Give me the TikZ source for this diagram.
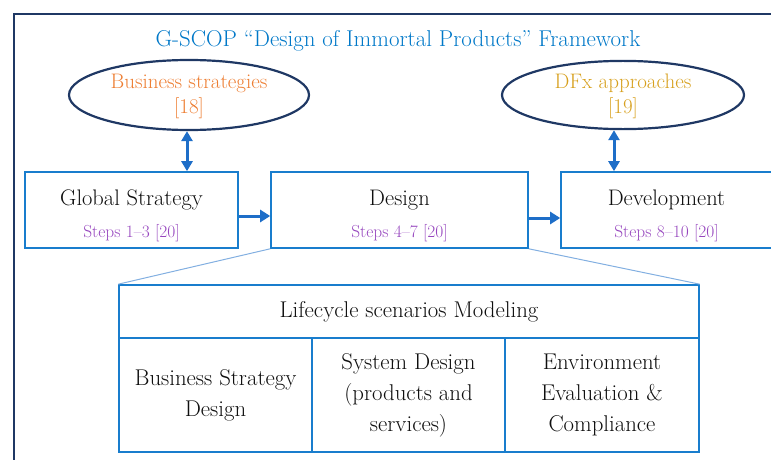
\documentclass[tikz,border=0pt]{standalone}
\usetikzlibrary{arrows.meta,shapes.geometric}
\definecolor{navy}{RGB}{31,56,100}
\definecolor{boxblue}{RGB}{25,125,205}
\definecolor{titleblue}{RGB}{0,120,200}
\definecolor{arrowblue}{RGB}{30,110,200}
\definecolor{zoomblue}{RGB}{130,175,225}
\definecolor{orangec}{RGB}{237,125,49}
\definecolor{goldc}{RGB}{215,160,30}
\definecolor{purplec}{RGB}{150,70,190}
\definecolor{textc}{RGB}{15,15,15}
\begin{document}
\begin{tikzpicture}[x=1pt,y=-1pt,
  stagebox/.style={draw=boxblue,line width=1.6pt,inner sep=0pt,minimum height=76pt},
  cell/.style={draw=boxblue,line width=1.6pt,inner sep=0pt,align=center,text=textc,
    font=\fontsize{22.8}{31}\selectfont},
  oval/.style={ellipse,draw=navy,line width=2.2pt,inner sep=0pt,align=center,
    font=\fontsize{21}{25}\selectfont},
  maintext/.style={anchor=base,text=textc,inner sep=0pt,font=\fontsize{22.5}{24}\selectfont},
  steptext/.style={anchor=base,text=purplec,inner sep=0pt,font=\fontsize{17.4}{18}\selectfont},
  arr/.style={draw=arrowblue,line width=3pt,-{Triangle[length=10pt,width=12pt]}},
  darr/.style={draw=arrowblue,line width=3pt,{Triangle[length=10pt,width=11pt]}-{Triangle[length=10pt,width=11pt]}},
  zoomline/.style={draw=zoomblue,line width=1pt}]
\useasboundingbox (0,0) rectangle (771,460);
% outer frame
\draw[navy,line width=2pt] (14,480) -- (14,14) -- (800,14);
% title
\node[anchor=base,text=titleblue,inner sep=0pt,font=\fontsize{22.9}{24}\selectfont] (title) at (398,47)
  {G-SCOP “Design of Immortal Products” Framework};
% ellipses
\node[oval,minimum width=240pt,minimum height=70pt,text=orangec] (bs) at (189,95)
  {\rule{0pt}{18pt}Business strategies\\{[18]}};
\node[oval,minimum width=242pt,minimum height=68pt,text=goldc] (dfx) at (623,95)
  {\rule{0pt}{18pt}DFx approaches\\{[19]}};
% stage boxes
\node[stagebox,minimum width=213pt] (gs) at (131.5,210) {};
\node[stagebox,minimum width=257pt] (des) at (399.5,210) {};
\node[stagebox,minimum width=211pt] (dev) at (666.5,210) {};
\node[maintext] (gst) at (131.5,205) {Global Strategy};
\node[steptext] (gss) at (131.5,237) {Steps 1–3 [20]};
\node[maintext] (dest) at (399.5,205) {Design};
\node[steptext] (dess) at (399.5,237) {Steps 4–7 [20]};
\node[maintext] (devt) at (666.5,205) {Development};
\node[steptext] (devs) at (666.5,237) {Steps 8–10 [20]};
% arrows
\draw[darr] ([xshift=-2pt]bs.south) -- ([xshift=-2pt]bs.south |- gs.north);
\draw[darr] ([xshift=-9pt]dfx.south) -- ([xshift=-9pt]dfx.south |- dev.north);
\draw[arr] ([yshift=-6pt]gs.east) -- ([yshift=-6pt]des.west);
\draw[arr] ([yshift=-8pt]des.east) -- ([yshift=-8pt]dev.west);
% lifecycle
\node[cell,minimum width=580pt,minimum height=53pt] (lc) at (409,311.5) {Lifecycle scenarios Modeling};
\node[cell,minimum width=193pt,minimum height=114pt] (c1) at (215.5,395) {Business Strategy\\Design};
\node[cell,minimum width=193pt,minimum height=114pt] (c2) at (408.5,395) {System Design\\(products and\\services)};
\node[cell,minimum width=194pt,minimum height=114pt] (c3) at (602,395) {Environment\\Evaluation \&\\Compliance};
% zoom lines
\draw[zoomline] (des.south west) -- (lc.north west);
\draw[zoomline] (des.south east) -- (lc.north east);
\end{tikzpicture}
\end{document}
